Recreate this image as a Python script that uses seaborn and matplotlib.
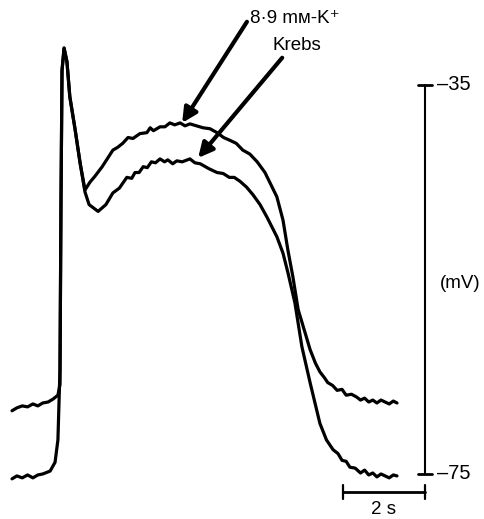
"""
Action potentials in Krebs vs 8.9 mM-K+ solution, with scale bars.
"""

import numpy as np
import pandas as pd
import matplotlib
matplotlib.use("Agg")
import matplotlib.pyplot as plt
import seaborn as sns

# ── Data (time in s, membrane potential in mV) ───────────────
T_HIGH_K = [0.00, 0.12, 0.25, 0.38, 0.51, 0.63, 0.75, 0.88, 1.00, 1.12, 1.17,
            1.195, 1.22, 1.27, 1.34, 1.41, 1.54, 1.66, 1.78, 1.90, 2.02, 2.20,
            2.46, 2.58, 2.70, 2.83, 2.95, 3.12, 3.29, 3.37, 3.45, 3.61, 3.73,
            3.85, 3.97, 4.10, 4.22, 4.34, 4.50, 4.66, 4.83, 5.00, 5.16, 5.32,
            5.47, 5.63, 5.80, 5.98, 6.17, 6.46, 6.61, 6.73, 6.85, 6.98, 7.15,
            7.27, 7.40, 7.51, 7.62, 7.70, 7.82, 7.93, 8.05, 8.15, 8.28, 8.41,
            8.50, 8.60, 8.70, 8.80, 8.90, 9.00, 9.10, 9.20, 9.30, 9.39]
V_HIGH_K = [-68.5, -68.2, -68.0, -68.1, -67.8, -68.0, -67.7, -67.6, -67.3, -66.9,
            -65.8, -46.8, -33.5, -31.2, -32.6, -36.2, -39.6, -43.0, -45.8, -45.0,
            -44.4, -43.4, -41.7, -41.4, -41.0, -40.4, -40.5, -40.0, -39.9, -39.4,
            -39.7, -39.3, -39.3, -38.9, -39.1, -38.9, -39.2, -39.0, -39.2, -39.4,
            -39.5, -39.9, -40.4, -40.7, -41.0, -41.7, -42.1, -42.9, -44.0, -46.5,
            -48.9, -52.0, -54.7, -58.1, -60.5, -62.2, -63.6, -64.5, -65.1, -65.6,
            -65.9, -66.4, -66.3, -66.9, -66.8, -67.1, -67.4, -67.2, -67.6, -67.4,
            -67.7, -67.4, -67.6, -67.8, -67.5, -67.7]

T_KREBS = [0.00, 0.12, 0.25, 0.38, 0.51, 0.63, 0.75, 0.93, 1.05, 1.12, 1.17,
           1.195, 1.22, 1.27, 1.34, 1.41, 1.54, 1.66, 1.78, 1.88, 2.10, 2.29,
           2.46, 2.62, 2.80, 2.92, 3.00, 3.10, 3.20, 3.30, 3.40, 3.50, 3.61,
           3.72, 3.80, 3.92, 4.02, 4.15, 4.34, 4.46, 4.59, 4.80, 5.00, 5.15,
           5.30, 5.42, 5.56, 5.72, 5.88, 6.05, 6.22, 6.46, 6.61, 6.73, 6.90,
           7.07, 7.27, 7.51, 7.67, 7.83, 7.95, 8.05, 8.15, 8.24, 8.37, 8.50,
           8.60, 8.70, 8.80, 8.90, 9.00, 9.10, 9.20, 9.30, 9.39]
V_KREBS = [-75.5, -75.2, -75.4, -75.1, -75.4, -75.1, -75.0, -74.7, -73.8, -71.5,
           -64.3, -46.8, -33.5, -31.2, -32.6, -36.2, -39.6, -43.0, -46.0, -47.3,
           -48.0, -47.3, -46.1, -45.6, -44.5, -44.6, -44.0, -44.0, -43.4, -43.5,
           -42.9, -43.0, -42.6, -42.9, -42.7, -43.1, -42.8, -42.9, -42.6, -43.0,
           -43.1, -43.6, -44.0, -44.1, -44.5, -44.5, -44.9, -45.5, -46.3, -47.3,
           -48.6, -50.6, -52.3, -54.3, -57.4, -61.9, -65.6, -69.8, -71.5, -72.5,
           -72.9, -73.6, -73.7, -74.3, -74.4, -74.9, -74.6, -75.1, -74.9, -75.3,
           -75.0, -75.2, -75.4, -75.1, -75.2]

LABELS = ["8·9 mᴍ-K⁺", "Krebs"]

# scale bars
V_BAR = [-35, -75]          # mV
T_BAR = 2                   # s
BAR_X = 10.07               # s, position of the voltage bar

# ── Figure ───────────────────────────────────────────────────
sns.set_style("white")
plt.rcParams["font.family"] = ["Liberation Sans", "DejaVu Sans"]
plt.rcParams["text.color"] = "black"

fig = plt.figure(figsize=(4.85, 5.19), dpi=100)
ax = fig.add_axes([0, 0, 1, 1])

df = pd.concat([
    pd.DataFrame({"t": T_HIGH_K, "v": V_HIGH_K, "cond": LABELS[0]}),
    pd.DataFrame({"t": T_KREBS, "v": V_KREBS, "cond": LABELS[1]}),
])
sns.lineplot(data=df, x="t", y="v", units="cond", estimator=None, sort=False,
             color="black", linewidth=2.3, ax=ax, legend=False)

# voltage scale bar
ax.plot([BAR_X, BAR_X], V_BAR, color="black", lw=1.5)
for v in V_BAR:
    ax.plot([BAR_X - 0.17, BAR_X + 0.17], [v, v], color="black", lw=2)
    ax.text(BAR_X + 0.3, v, f"\u2013{abs(v)}", fontsize=14.5,
            va="center", ha="left")
ax.text(BAR_X + 0.36, -55.4, "(mV)", fontsize=13.5, va="center", ha="left")

# time scale bar
ty = -76.85
ax.plot([BAR_X - T_BAR, BAR_X], [ty, ty], color="black", lw=2)
for x in [BAR_X - T_BAR, BAR_X]:
    ax.plot([x, x], [ty - 0.7, ty + 0.7], color="black", lw=1.6)
ax.text(BAR_X - T_BAR / 2, -78.7, f"{T_BAR} s", fontsize=13.5,
        ha="center", va="center")

# labels with arrows
arrow = dict(arrowstyle="-|>", lw=3, mutation_scale=22, color="black",
             shrinkA=0, shrinkB=0)
ax.annotate("", xy=(4.15, -38.9), xytext=(5.73, -28.5), arrowprops=arrow)
ax.annotate("", xy=(4.54, -42.5), xytext=(6.59, -32.2), arrowprops=arrow)
ax.text(5.80, -28.2, LABELS[0], fontsize=13.5, ha="left", va="center")
ax.text(6.95, -30.9, LABELS[1], fontsize=13.5, ha="center", va="center")

ax.set_xlim(-12 / 41, 473 / 41)
ax.set_ylim(-79.63, -26.26)
ax.axis("off")

fig.savefig("out.png", dpi=100, facecolor="white")
